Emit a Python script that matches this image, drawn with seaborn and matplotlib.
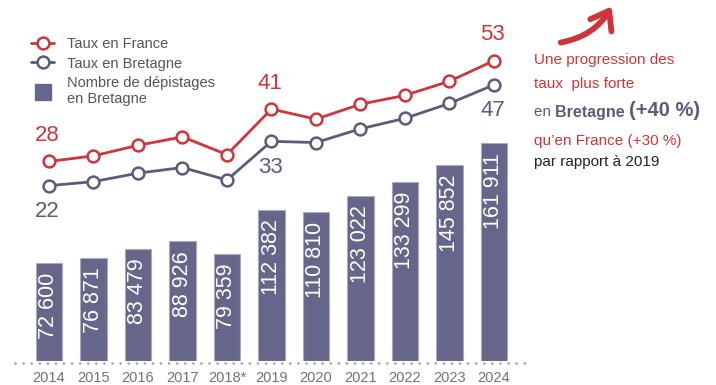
import pandas as pd
import matplotlib
matplotlib.use("Agg")
import matplotlib.pyplot as plt
import seaborn as sns
from matplotlib.lines import Line2D
from matplotlib.patches import FancyArrowPatch

# Data
years = ["2014", "2015", "2016", "2017", "2018*", "2019",
         "2020", "2021", "2022", "2023", "2024"]
depistages = [72600, 76871, 83479, 88926, 79359, 112382,
              110810, 123022, 133299, 145852, 161911]
taux_france = [28, 29.4, 32.0, 34.1, 29.7, 41, 38.5, 42.2, 44.4, 47.9, 53]
taux_bretagne = [22, 23.0, 25.1, 26.5, 23.4, 33, 32.7, 36.1, 38.7, 42.4, 47]
labels_france = {0: "28", 5: "41", 10: "53"}
labels_bretagne = {0: "22", 5: "33", 10: "47"}

RED = "#d1343a"
GREY = "#5b5b7a"
BAR = "#66668a"
TXT = "#555555"

sns.set_style("white")
plt.rcParams["font.family"] = ["Liberation Sans", "DejaVu Sans"]

df = pd.DataFrame({"annee": years, "depistages": depistages,
                   "france": taux_france, "bretagne": taux_bretagne})
df["pos"] = range(len(df))

fig = plt.figure(figsize=(7.16, 3.85), dpi=100)
ax = fig.add_axes([15 / 716, 24 / 385, 510 / 716, 341 / 385])

# bars
sns.barplot(data=df, x="annee", y="depistages", color=BAR, width=0.6,
            saturation=1, edgecolor="#a9a9c2", linewidth=0.8, ax=ax)
ax.set_ylim(0, 253500)
for i, v in enumerate(depistages):
    ax.annotate(f"{v:,}".replace(",", " "), xy=(i, v), xytext=(0, -7),
                textcoords="offset points", rotation=90, ha="center",
                va="top", color="white", fontsize=15.5)

# dotted baseline
ax.axhline(-1500, color="#a8a8a8", linestyle=(0, (0.01, 2.9)), linewidth=2,
           clip_on=False, dash_capstyle="round")

# lines on twin axis
ax2 = ax.twinx()
for col, color in [("france", RED), ("bretagne", GREY)]:
    sns.lineplot(data=df, x="pos", y=col, color=color, linewidth=2,
                 marker="o", markersize=8.5, markerfacecolor="white",
                 markeredgecolor=color, markeredgewidth=1.8, ax=ax2,
                 zorder=3)
ax2.set_ylim(-21.5, 63.1)

for i, t in labels_france.items():
    ax2.annotate(t, xy=(i, taux_france[i]), xytext=(-1, 11),
                 textcoords="offset points", ha="center", va="bottom",
                 color=RED, fontsize=16)
for i, t in labels_bretagne.items():
    ax2.annotate(t, xy=(i, taux_bretagne[i]), xytext=(-1, -11),
                 textcoords="offset points", ha="center", va="top",
                 color=GREY, fontsize=16)

ax.set_xlim(-0.764, 10.70)
ax2.set_xlim(-0.764, 10.70)
for a in (ax, ax2):
    sns.despine(ax=a, left=True, bottom=True, right=True, top=True)
    a.set_xlabel("")
    a.set_ylabel("")
    a.set_yticks([])
ax.tick_params(axis="x", length=0, pad=7, labelsize=10.5, labelcolor="#737373")

# legend
handles = [
    Line2D([], [], color=RED, lw=2, marker="o", ms=8.5, mfc="white",
           mec=RED, mew=1.8),
    Line2D([], [], color=GREY, lw=2, marker="o", ms=8.5, mfc="white",
           mec=GREY, mew=1.8),
    Line2D([], [], color=BAR, lw=0, marker="s", ms=12),
]
leg = fig.legend(handles, ["Taux en France", "Taux en Bretagne",
                           "Nombre de dépistages\nen Bretagne"],
                 loc="upper left", bbox_to_anchor=(31 / 716, 1 - 37 / 385),
                 frameon=False, fontsize=10.5, labelspacing=0.38,
                 handlelength=1.6, handletextpad=0.9, borderpad=0,
                 borderaxespad=0, labelcolor=TXT)
for t in leg.get_texts():
    t.set_linespacing(1.2)

# right-hand commentary
x0 = 534 / 716
fig.text(x0, 1 - 64 / 385, "Une progression des", color=RED,
         fontsize=11, va="baseline")
fig.text(x0, 1 - 88 / 385, "taux  plus forte", color=RED,
         fontsize=11, va="baseline")
t1 = fig.text(x0, 1 - 116.5 / 385, "en ", color=GREY, fontsize=11,
              va="baseline")
t2 = ax2.annotate("Bretagne ", xy=(1, 0), xycoords=t1, color=GREY,
                  fontsize=11.5, fontweight="bold",
                  va="bottom", ha="left", annotation_clip=False)
ax2.annotate("(+40 %)", xy=(1, 0), xycoords=t2, color=GREY,
             fontsize=14.5, fontweight="bold",
             va="bottom", ha="left", annotation_clip=False)
fig.text(x0, 1 - 145 / 385, "qu’en France (+30 %)", color=RED,
         fontsize=11, va="baseline")
fig.text(x0, 1 - 166 / 385, "par rapport à 2019", color="#222222",
         fontsize=11, va="baseline")

arrow = FancyArrowPatch((558 / 716, 1 - 43 / 385), (613 / 716, 1 - 4 / 385),
                        transform=fig.transFigure,
                        connectionstyle="arc3,rad=0.25",
                        arrowstyle="->,head_length=0.55,head_width=0.4",
                        mutation_scale=22, color="#d0343a", lw=4.2)
fig.patches.append(arrow)

fig.savefig("out.png", dpi=100)
